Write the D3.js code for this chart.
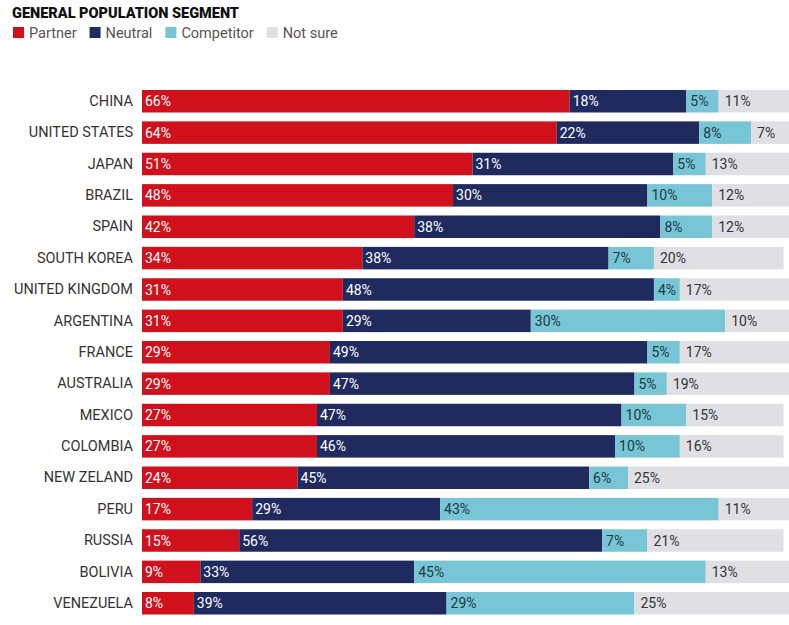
<!DOCTYPE html>
<html>
<head>
<meta charset="utf-8">
<script src="https://cdnjs.cloudflare.com/ajax/libs/d3/7.8.5/d3.min.js"></script>
<style>
  body { margin: 0; background: #fff; }
  svg { display: block; font-family: Roboto, "Noto Sans", sans-serif; }
</style>
</head>
<body>
<div id="chart"></div>
<script>
// data
var countries = ["CHINA", "UNITED STATES", "JAPAN", "BRAZIL", "SPAIN", "SOUTH KOREA",
    "UNITED KINGDOM", "ARGENTINA", "FRANCE", "AUSTRALIA", "MEXICO", "COLOMBIA",
    "NEW ZELAND", "PERU", "RUSSIA", "BOLIVIA", "VENEZUELA"];
var partner    = [66, 64, 51, 48, 42, 34, 31, 31, 29, 29, 27, 27, 24, 17, 15, 9, 8];
var neutral    = [18, 22, 31, 30, 38, 38, 48, 29, 49, 47, 47, 46, 45, 29, 56, 33, 39];
var competitor = [5, 8, 5, 10, 8, 7, 4, 30, 5, 5, 10, 10, 6, 43, 7, 45, 29];
var notSure    = [11, 7, 13, 12, 12, 20, 17, 10, 17, 19, 15, 16, 25, 11, 21, 13, 25];

var seriesNames = ["Partner", "Neutral", "Competitor", "Not sure"];
var colors = ["#d0111c", "#1f2a5f", "#77c5d5", "#e0e0e4"];
var labelColors = ["#fff", "#fff", "#1d3a44", "#333"];
var labelOffset = [3, 3, 4, 6];

var width = 789, height = 625;
var margin = { top: 90, left: 142, right: 0, bottom: 10.5 };

var rows = countries.map(function(c, i) {
    return { country: c, Partner: partner[i], Neutral: neutral[i], Competitor: competitor[i], "Not sure": notSure[i] };
});

var svg = d3.select("#chart").append("svg")
    .attr("width", width)
    .attr("height", height);

// title
svg.append("text")
    .attr("x", 12)
    .attr("y", 18)
    .style("font-size", "14.5px")
    .style("font-weight", "900")
    .style("fill", "#111")
    .text("GENERAL POPULATION SEGMENT");

// legend
var legend = svg.append("g").attr("transform", "translate(13,27)");
var lx = 0;
seriesNames.forEach(function(name, i) {
    var g = legend.append("g").attr("transform", "translate(" + lx + ",0)");
    g.append("rect").attr("width", 11).attr("height", 11).attr("fill", colors[i]);
    var t = g.append("text").attr("x", 16).attr("y", 10.5)
        .style("font-size", "14.5px").style("fill", "#555").text(name);
    lx += 16 + t.node().getComputedTextLength() + 13;
});

var x = d3.scaleLinear().domain([0, 100]).range([margin.left, 790]);
var y = d3.scaleBand().domain(countries)
    .range([margin.top, height - margin.bottom]).paddingInner(0.283).paddingOuter(0);

var stack = d3.stack().keys(seriesNames)(rows);

var chart = svg.append("g");

stack.forEach(function(layer, li) {
    var g = chart.append("g");
    g.selectAll("rect").data(layer).enter().append("rect")
        .attr("x", function(d) { return x(d[0]); })
        .attr("y", function(d) { return y(d.data.country); })
        .attr("width", function(d) { return Math.max(0, x(Math.min(d[1], 100)) - x(d[0])); })
        .attr("height", y.bandwidth())
        .attr("fill", colors[li]);
    g.selectAll("text").data(layer).enter().append("text")
        .attr("x", function(d) { return x(d[0]) + labelOffset[li]; })
        .attr("y", function(d) { return y(d.data.country) + y.bandwidth() / 2; })
        .attr("dy", "0.36em")
        .style("font-size", "14px")
        .style("fill", labelColors[li])
        .text(function(d) { return d.data[seriesNames[li]] + "%"; });
});

// category axis
var yAxis = svg.append("g")
    .attr("transform", "translate(" + (margin.left - 4) + ",0)")
    .call(d3.axisLeft(y).tickSize(0).tickPadding(5));
yAxis.select(".domain").remove();
yAxis.selectAll("text")
    .style("font-size", "14.5px")
    .style("font-family", "Roboto, 'Noto Sans', sans-serif")
    .style("fill", "#333");
</script>
</body>
</html>
